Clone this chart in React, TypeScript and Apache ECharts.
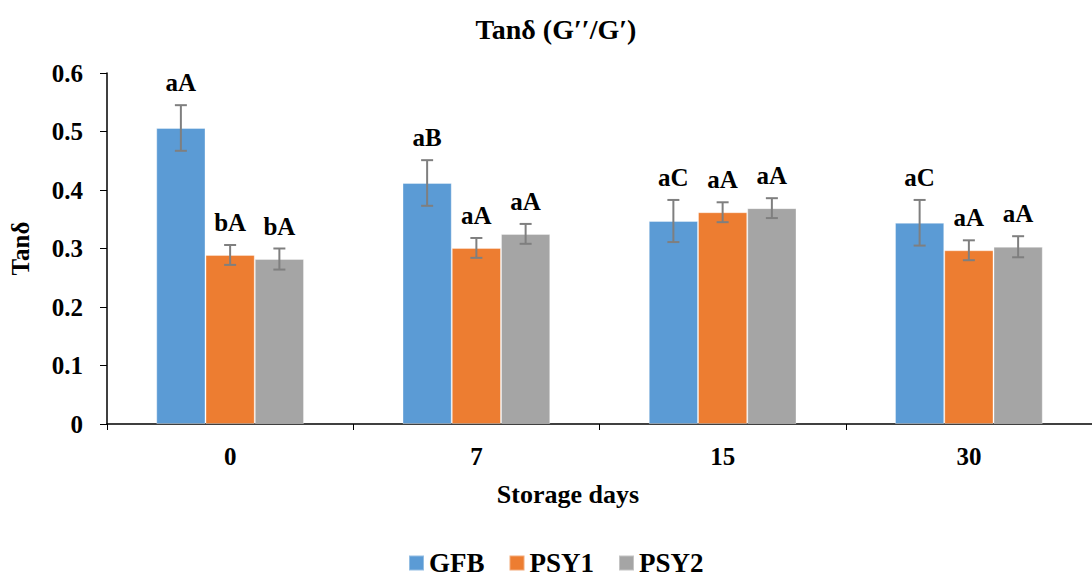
import React, { useEffect, useRef } from "react";
import * as echarts from "echarts";

const categories = ["0", "7", "15", "30"];
const seriesNames = ["GFB", "PSY1", "PSY2"];
const colors = ["#5B9BD5", "#ED7D31", "#A5A5A5"];
const gfb = [0.506, 0.412, 0.347, 0.344];
const psy1 = [0.289, 0.301, 0.362, 0.297];
const psy2 = [0.282, 0.325, 0.369, 0.303];
const gfbErr = [0.039, 0.039, 0.036, 0.039];
const psy1Err = [0.017, 0.017, 0.017, 0.017];
const psy2Err = [0.018, 0.017, 0.017, 0.018];
const gfbLetters = ["aA", "aB", "aC", "aC"];
const psy1Letters = ["bA", "aA", "aA", "aA"];
const psy2Letters = ["bA", "aA", "aA", "aA"];

const FONT = "'Liberation Serif', 'Times New Roman', serif";

export default function App() {
  const ref = useRef<HTMLDivElement>(null);
  useEffect(() => {
    if (!ref.current) return;
    const chart = echarts.init(ref.current, null, { renderer: "svg" });
    const values = [gfb, psy1, psy2];
    const errs = [gfbErr, psy1Err, psy2Err];
    const letters = [gfbLetters, psy1Letters, psy2Letters];

    const barSeries = seriesNames.map((name, i) => ({
      name,
      type: "bar",
      data: values[i],
      barWidth: "20%",
      barGap: "0%",
      itemStyle: { color: colors[i], borderColor: "rgba(255,255,255,0.35)", borderWidth: 1 },
      z: 2,
    }));

    const errSeries = seriesNames.map((name, s) => ({
      type: "custom",
      name: name + "_err",
      z: 5,
      data: categories.map((_, k) => [k, values[s][k], errs[s][k]]),
      renderItem: (params: any, api: any) => {
        const k = api.value(0);
        const v = api.value(1);
        const e = api.value(2);
        const letter = letters[s][k];
        const bw = api.size([1, 0])[0] * 0.2;
        const cx = api.coord([k, 0])[0] + (s - 1) * bw;
        const yTop = api.coord([k, v + e])[1];
        const yBot = api.coord([k, v - e])[1];
        const cap = 6;
        const ls = { stroke: "#7F7F7F", lineWidth: 2 };
        return {
          type: "group",
          children: [
            { type: "line", shape: { x1: cx, y1: yTop, x2: cx, y2: yBot }, style: ls },
            { type: "line", shape: { x1: cx - cap, y1: yTop, x2: cx + cap, y2: yTop }, style: ls },
            { type: "line", shape: { x1: cx - cap, y1: yBot, x2: cx + cap, y2: yBot }, style: ls },
            {
              type: "text",
              x: cx,
              y: yTop - 10,
              style: {
                text: letter,
                fontFamily: FONT,
                fontWeight: "bold",
                fontSize: 25,
                fill: "#000",
                align: "center",
                verticalAlign: "bottom",
              },
            },
          ],
        };
      },
    }));

    chart.setOption({
      animation: false,
      backgroundColor: "#fff",
      textStyle: { fontFamily: FONT },
      grid: { left: 107, top: 73, width: 1004, height: 351 },
      graphic: [
        {
          type: "text",
          x: 556,
          y: 29,
          style: {
            text: "Tanδ (G′′/G′)",
            fontFamily: FONT,
            fontWeight: "bold",
            fontSize: 28,
            fill: "#000",
            align: "center",
            verticalAlign: "middle",
          },
        },
        {
          type: "text",
          x: 568,
          y: 494,
          style: {
            text: "Storage days",
            fontFamily: FONT,
            fontWeight: "bold",
            fontSize: 26,
            fill: "#000",
            align: "center",
            verticalAlign: "middle",
          },
        },
      ],
      legend: {
        data: seriesNames,
        left: 408,
        top: 548,
        icon: "rect",
        itemWidth: 15,
        itemHeight: 15,
        itemGap: 24,
        padding: 0,
        textStyle: { fontFamily: FONT, fontWeight: "bold", fontSize: 27, color: "#000", lineHeight: 30 },
      },
      xAxis: {
        type: "category",
        data: categories,
        axisLine: { lineStyle: { color: "#000", width: 1.5 } },
        axisTick: { show: true, length: 6, lineStyle: { color: "#000" } },
        axisLabel: { margin: 20, fontFamily: FONT, fontWeight: "bold", fontSize: 25, color: "#000" },
      },
      yAxis: {
        type: "value",
        min: 0,
        max: 0.6,
        interval: 0.1,
        name: "Tanδ",
        nameLocation: "middle",
        nameGap: 74,
        nameTextStyle: { fontFamily: FONT, fontWeight: "bold", fontSize: 25, color: "#000" },
        axisLine: { show: true, lineStyle: { color: "#000", width: 1.5 } },
        axisTick: { show: true, length: 7, lineStyle: { color: "#000" } },
        splitLine: { show: false },
        axisLabel: {
          margin: 24,
          fontFamily: FONT,
          fontWeight: "bold",
          fontSize: 25,
          color: "#000",
          formatter: (v: number) => (v === 0 ? "0" : v.toFixed(1)),
        },
      },
      series: [...barSeries, ...errSeries],
    });
    return () => chart.dispose();
  }, []);

  return (
    <div
      ref={ref}
      style={{ position: "fixed", left: 0, top: 0, width: 1092, height: 577, background: "#fff" }}
    />
  );
}
